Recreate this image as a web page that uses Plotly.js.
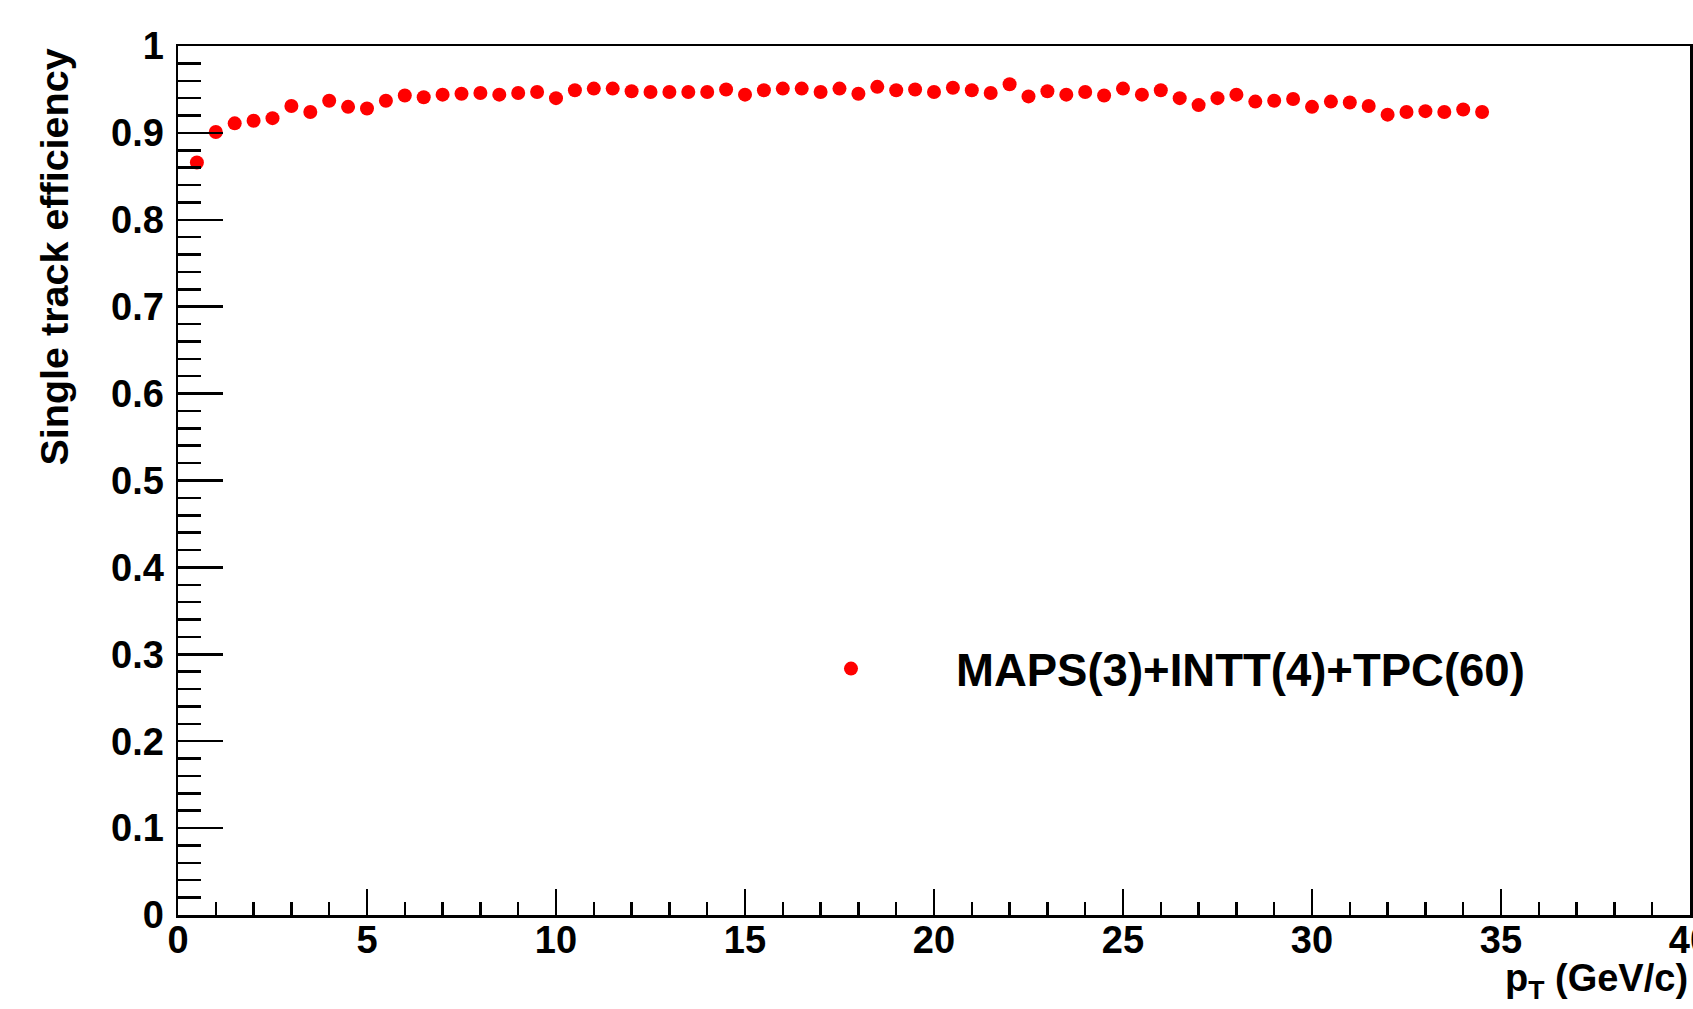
<!DOCTYPE html>
<html>
<head>
<meta charset="utf-8">
<script src="https://cdn.plot.ly/plotly-3.0.1.min.js"></script>
<style>html,body{margin:0;padding:0;background:#fff;}#chart{width:1693px;height:1009px;}</style>
</head>
<body>
<div id="chart"></div>
<script>
// pT bin centres (GeV/c)
const pt = [0.5, 1.0, 1.5, 2.0, 2.5, 3.0, 3.5, 4.0, 4.5, 5.0,
            5.5, 6.0, 6.5, 7.0, 7.5, 8.0, 8.5, 9.0, 9.5, 10.0,
            10.5, 11.0, 11.5, 12.0, 12.5, 13.0, 13.5, 14.0, 14.5, 15.0,
            15.5, 16.0, 16.5, 17.0, 17.5, 18.0, 18.5, 19.0, 19.5, 20.0,
            20.5, 21.0, 21.5, 22.0, 22.5, 23.0, 23.5, 24.0, 24.5, 25.0,
            25.5, 26.0, 26.5, 27.0, 27.5, 28.0, 28.5, 29.0, 29.5, 30.0,
            30.5, 31.0, 31.5, 32.0, 32.5, 33.0, 33.5, 34.0, 34.5];
// single track efficiency
const efficiency = [0.866, 0.901, 0.911, 0.914, 0.917, 0.931, 0.924, 0.937, 0.930, 0.928,
                    0.937, 0.943, 0.941, 0.944, 0.945, 0.946, 0.944, 0.946, 0.947, 0.940,
                    0.949, 0.951, 0.951, 0.948, 0.947, 0.947, 0.947, 0.947, 0.950, 0.944,
                    0.949, 0.951, 0.951, 0.947, 0.951, 0.945, 0.953, 0.949, 0.950, 0.947,
                    0.952, 0.949, 0.946, 0.956, 0.942, 0.948, 0.944, 0.947, 0.943, 0.951,
                    0.944, 0.949, 0.940, 0.932, 0.940, 0.944, 0.936, 0.937, 0.939, 0.930,
                    0.936, 0.935, 0.931, 0.921, 0.924, 0.925, 0.924, 0.927, 0.924];
const seriesName = 'MAPS(3)+INTT(4)+TPC(60)';
const xTitle = 'p<sub>T</sub> (GeV/c)';
const yTitle = 'Single track efficiency';

const FONT = 'Liberation Sans, Arial, Helvetica, sans-serif';

const trace = {
  x: pt, y: efficiency, type: 'scatter', mode: 'markers', name: seriesName,
  marker: {color: '#ff0000', size: 14, line: {width: 0}}
};

const layout = {
  width: 1693, height: 1009,
  margin: {l: 178, r: 3, t: 46, b: 94, pad: 0},
  paper_bgcolor: '#ffffff', plot_bgcolor: '#ffffff',
  font: {family: FONT, color: '#000', size: 38, weight: 'bold'},
  showlegend: true,
  legend: {
    x: (746 - 178) / 1512, xanchor: 'left',
    y: (915 - 669) / 869, yanchor: 'middle',
    bgcolor: 'rgba(0,0,0,0)', borderwidth: 0,
    itemwidth: 200,
    font: {family: FONT, size: 45.5, color: '#000', weight: 'bold'}
  },
  xaxis: {
    range: [0, 40], dtick: 5, tick0: 0,
    ticks: 'inside', ticklen: 26, tickwidth: 2.5, tickcolor: '#000',
    minor: {dtick: 1, ticks: 'inside', ticklen: 13, tickwidth: 2.5, tickcolor: '#000', showgrid: false},
    showline: true, linewidth: 2.5, linecolor: '#000', mirror: true,
    showgrid: false, zeroline: false,
    tickfont: {family: FONT, size: 38, color: '#000', weight: 'bold'},
    ticklabelstandoff: -10,
    ticklabeloverflow: 'allow'
  },
  yaxis: {
    range: [0, 1], dtick: 0.1, tick0: 0,
    ticks: 'inside', ticklen: 45, tickwidth: 2.5, tickcolor: '#000',
    minor: {dtick: 0.02, ticks: 'inside', ticklen: 23, tickwidth: 2.5, tickcolor: '#000', showgrid: false},
    showline: true, linewidth: 2.5, linecolor: '#000', mirror: true,
    showgrid: false, zeroline: false,
    tickfont: {family: FONT, size: 38, color: '#000', weight: 'bold'},
    ticklabelstandoff: 4,
    ticklabeloverflow: 'allow'
  },
  annotations: [
    {text: xTitle, xref: 'paper', yref: 'paper', x: 1, xanchor: 'right',
     y: (915 - 981) / 869, yanchor: 'middle', showarrow: false,
     font: {family: FONT, size: 38, color: '#000', weight: 'bold'}},
    {text: yTitle, xref: 'paper', yref: 'paper', x: (54 - 178) / 1512, xanchor: 'center',
     y: (915 - 47) / 869, yanchor: 'top', textangle: -90, showarrow: false,
     font: {family: FONT, size: 39.5, color: '#000', weight: 'bold'}}
  ]
};

Plotly.newPlot('chart', [trace], layout, {displayModeBar: false, staticPlot: true});
</script>
</body>
</html>
